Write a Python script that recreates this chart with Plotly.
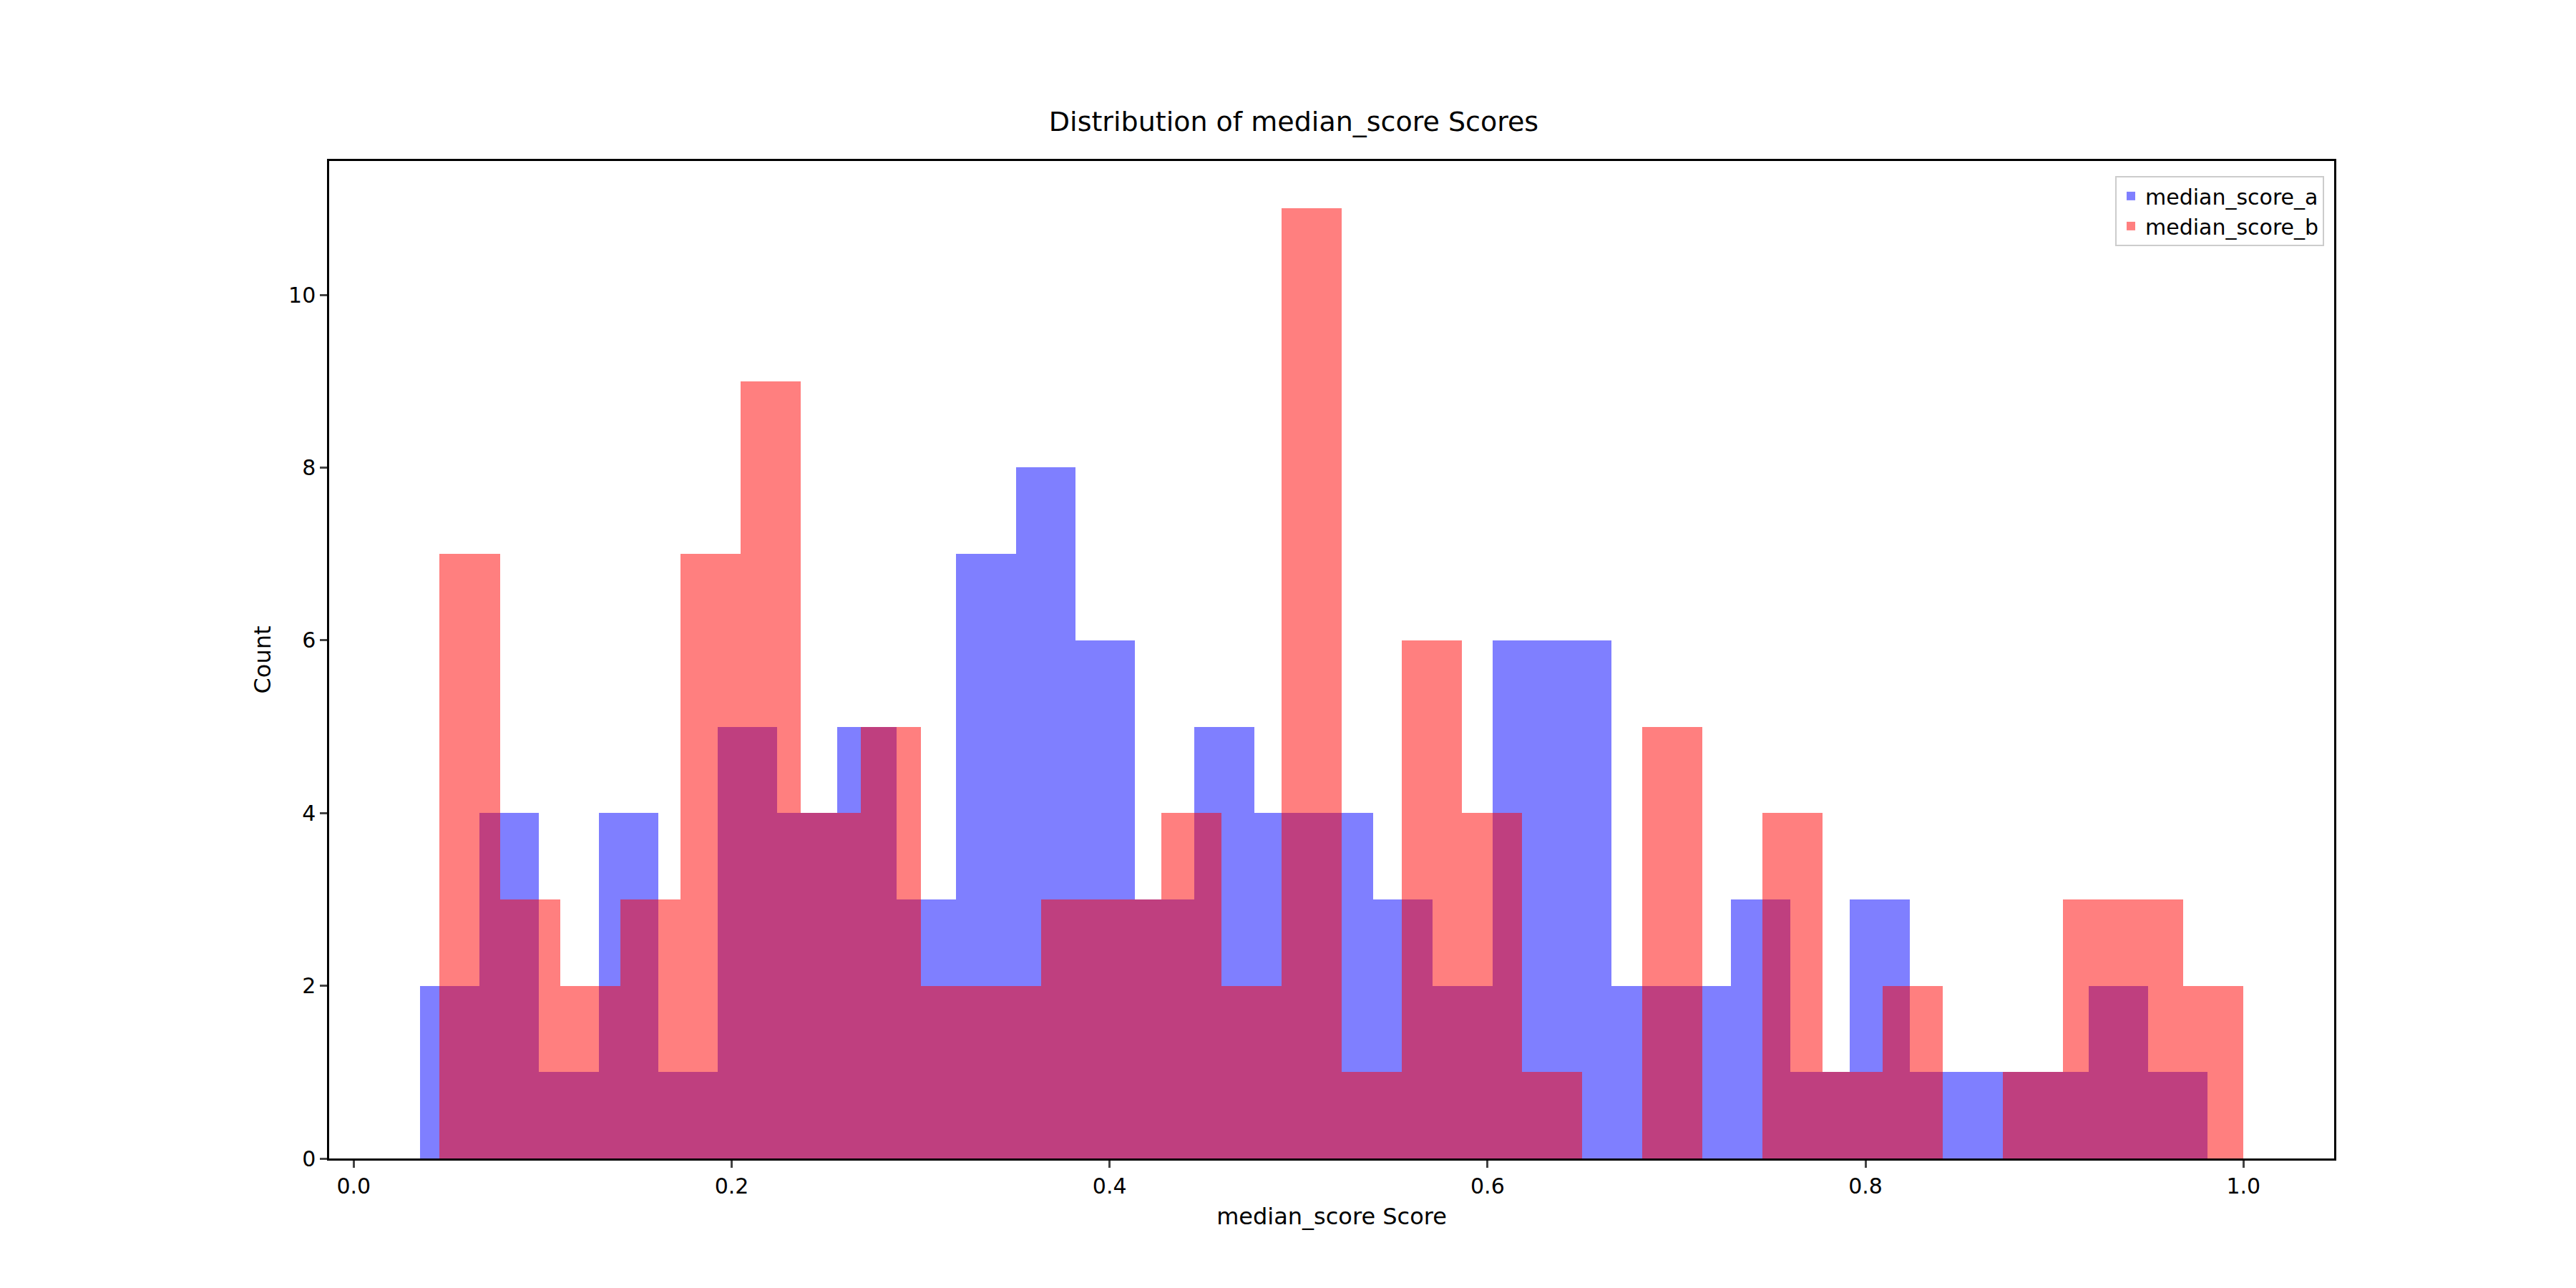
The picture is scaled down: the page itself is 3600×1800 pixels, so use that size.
import numpy as np
import plotly.graph_objects as go

# histogram counts (30 bins each)
counts_a = [2, 4, 1, 4, 1, 5, 4, 5, 3, 7, 8, 6, 3, 5, 4, 4, 3, 2, 6, 6,
            2, 2, 3, 1, 3, 1, 1, 1, 2, 1]
counts_b = [7, 3, 2, 3, 7, 9, 4, 5, 2, 2, 3, 3, 4, 2, 11, 1, 6, 4, 1, 0,
            5, 0, 4, 1, 2, 0, 1, 3, 3, 2]
range_a = (0.035, 0.981)
range_b = (0.0455, 1.0)
names = ["median_score_a", "median_score_b"]
colors = ["rgba(0,0,255,0.5)", "rgba(255,0,0,0.5)"]

fig = go.Figure()
for cnt, rng, name, col in zip([counts_a, counts_b], [range_a, range_b], names, colors):
    edges = np.linspace(rng[0], rng[1], len(cnt) + 1)
    fig.add_trace(go.Bar(
        x=(edges[:-1] + edges[1:]) / 2, y=cnt, width=edges[1] - edges[0],
        name=name, marker=dict(color=col, line=dict(width=0)),
    ))

axis = dict(showline=True, linecolor="black", linewidth=2.5, mirror=True,
            ticks="outside", ticklen=10, tickwidth=2.5, showgrid=False,
            zeroline=False, tickfont=dict(size=30))
fig.update_layout(
    width=3600, height=1800, barmode="overlay", bargap=0,
    plot_bgcolor="white", paper_bgcolor="white",
    font=dict(family="DejaVu Sans", color="black"),
    margin=dict(l=452, r=346, t=217, b=189),
    title=dict(text="Distribution of median_score Scores", x=0.5, xanchor="center",
               y=1 - 175 / 1800, yanchor="bottom", font=dict(size=38)),
    xaxis=dict(axis, range=[-0.013, 1.048], tickvals=[0, 0.2, 0.4, 0.6, 0.8, 1.0],
               ticktext=["0.0", "0.2", "0.4", "0.6", "0.8", "1.0"],
               title=dict(text="median_score Score", font=dict(size=32))),
    yaxis=dict(axis, range=[0, 11.55], tickvals=[0, 2, 4, 6, 8, 10],
               title=dict(text="Count", font=dict(size=32))),
    legend=dict(x=0.995, y=0.985, xanchor="right", yanchor="top",
                bordercolor="#cccccc", borderwidth=2, font=dict(size=30)),
)
fig.write_html("out.html")
